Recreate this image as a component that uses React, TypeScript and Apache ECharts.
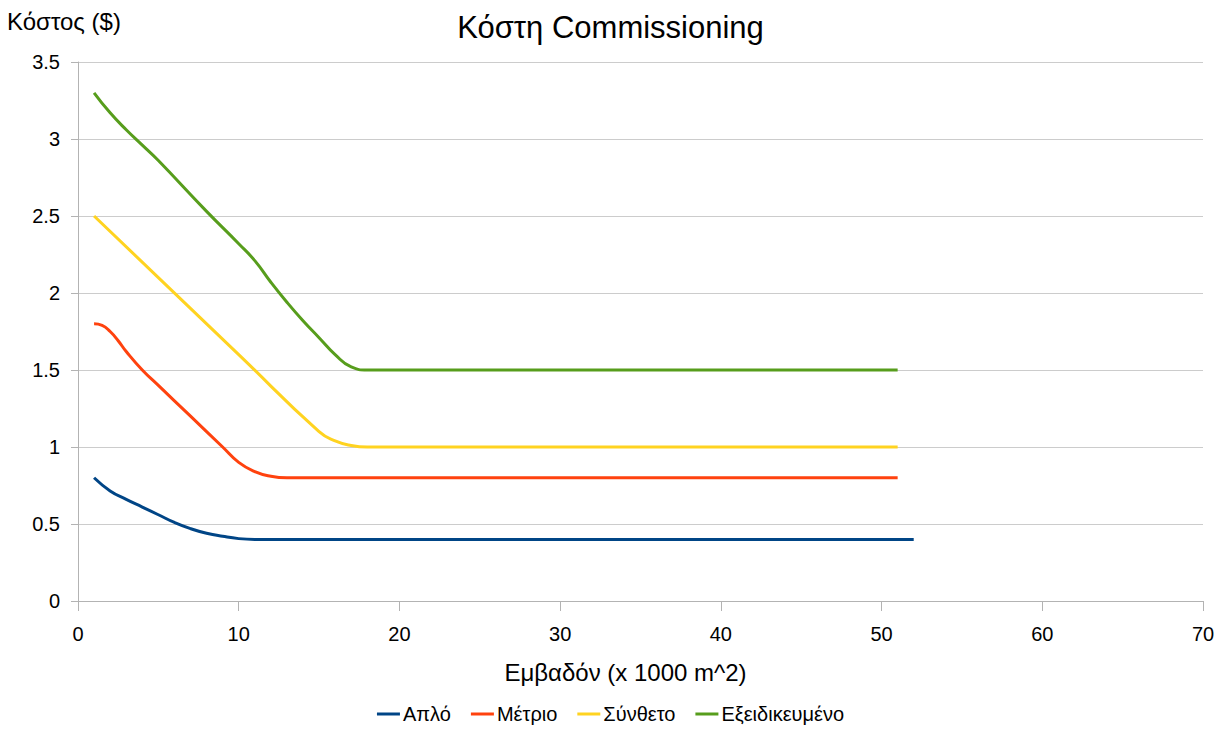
import React, { useEffect, useRef } from "react";
import * as echarts from "echarts";

const seriesNames = ["Απλό", "Μέτριο", "Σύνθετο", "Εξειδικευμένο"];
const colors = ["#004586", "#ff420e", "#ffd320", "#579d1c"];

const aploX = [1, 2, 3, 4, 5, 6, 7, 8, 9, 10, 11, 12, 52];
const aploY = [0.8, 0.715, 0.66, 0.61, 0.56, 0.51, 0.47, 0.44, 0.42, 0.405, 0.4, 0.4, 0.4];

const metrioX = [1, 1.5, 2, 2.5, 3, 4, 5, 7, 9, 10, 11, 12, 13, 14, 51];
const metrioY = [1.8, 1.79, 1.75, 1.69, 1.62, 1.5, 1.4, 1.2, 1.0, 0.9, 0.84, 0.81, 0.8, 0.8, 0.8];

const synthetoX = [1, 5, 10, 15, 16, 17, 18, 19, 51];
const synthetoY = [2.5, 2.1, 1.6, 1.1, 1.04, 1.01, 1.0, 1.0, 1.0];

const exeidX = [1, 2, 3, 4, 5, 8, 10, 11, 12, 13, 14, 15, 16, 17, 18, 19, 51];
const exeidY = [3.3, 3.17, 3.06, 2.96, 2.86, 2.53, 2.32, 2.21, 2.07, 1.94, 1.82, 1.71, 1.6, 1.52, 1.5, 1.5, 1.5];

const xTicks = { min: 0, max: 70, interval: 10 };
const yTicks = { min: 0, max: 3.5, interval: 0.5 };

const allX = [aploX, metrioX, synthetoX, exeidX];
const allY = [aploY, metrioY, synthetoY, exeidY];

const FONT = "Liberation Sans, Arial, sans-serif";

export default function App() {
  const ref = useRef<HTMLDivElement>(null);
  useEffect(() => {
    if (!ref.current) return;
    const chart = echarts.init(ref.current, null, { renderer: "svg" });
    chart.setOption({
      animation: false,
      backgroundColor: "#ffffff",
      textStyle: { fontFamily: FONT },
      title: {
        text: "Κόστη Commissioning",
        left: "center",
        top: 7,
        textStyle: { fontSize: 31, fontWeight: "normal", color: "#000", fontFamily: FONT },
      },
      graphic: [
        {
          type: "text",
          left: 7,
          top: 9,
          style: { text: "Κόστος ($)", fontSize: 24, fill: "#000", fontFamily: FONT },
        },
      ],
      legend: {
        bottom: 0,
        left: "center",
        itemWidth: 23,
        itemHeight: 3,
        itemGap: 20,
        icon: "rect",
        textStyle: { fontSize: 20, color: "#000", fontFamily: FONT, padding: [0, 0, 0, -2] },
        data: seriesNames,
      },
      grid: { left: 78, right: 18, top: 62, bottom: 128, containLabel: false },
      xAxis: {
        type: "value",
        min: xTicks.min,
        max: xTicks.max,
        interval: xTicks.interval,
        name: "Εμβαδόν (x 1000 m^2)",
        nameLocation: "middle",
        nameGap: 59,
        nameTextStyle: { fontSize: 24, color: "#000", fontFamily: FONT, padding: [0, 30, 0, 0] },
        axisLine: { show: true, lineStyle: { color: "#b3b3b3" } },
        axisTick: { show: true, length: 10, lineStyle: { color: "#b3b3b3" } },
        axisLabel: { fontSize: 20, color: "#000", margin: 23, fontFamily: FONT },
        splitLine: { show: false },
      },
      yAxis: {
        type: "value",
        min: yTicks.min,
        max: yTicks.max,
        interval: yTicks.interval,
        axisLine: { show: true, lineStyle: { color: "#b3b3b3" } },
        axisTick: { show: true, length: 7, lineStyle: { color: "#b3b3b3" } },
        axisLabel: { fontSize: 20, color: "#000", margin: 18, fontFamily: FONT },
        splitLine: { show: true, lineStyle: { color: "#cccccc" } },
      },
      series: seriesNames.map((name, i) => ({
        name,
        type: "line",
        data: allX[i].map((x, j) => [x, allY[i][j]]),
        showSymbol: false,
        symbol: "none",
        smooth: 0.5,
        lineStyle: { width: 3, color: colors[i] },
        itemStyle: { color: colors[i] },
      })),
    });
    return () => chart.dispose();
  }, []);
  return <div ref={ref} style={{ width: 1221, height: 729, position: "absolute", left: 0, top: 0 }} />;
}
